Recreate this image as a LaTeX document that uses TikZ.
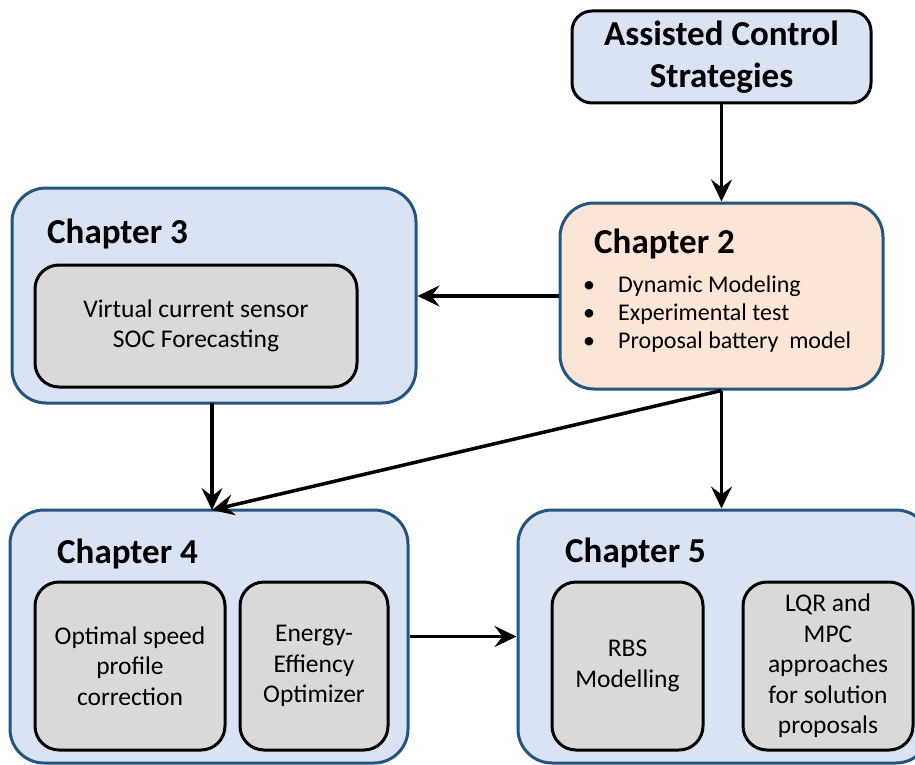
\documentclass[tikz,border=0pt]{standalone}
\usepackage{fontspec}
\setmainfont{Carlito}
\usetikzlibrary{arrows.meta}
\definecolor{chapblue}{RGB}{218,227,243}
\definecolor{chapedge}{RGB}{38,84,128}
\definecolor{peach}{RGB}{251,229,214}
\definecolor{innergray}{RGB}{217,217,217}
\tikzset{
  chapbox/.style={draw=chapedge, line width=3pt, fill=chapblue, rounded corners=34pt, inner sep=0pt},
  topbox/.style={draw=black, line width=3pt, fill=chapblue, rounded corners=20pt, inner sep=0pt, align=center, font=\fontsize{35}{42}\selectfont\bfseries},
  innerbox/.style={draw=black, line width=3pt, fill=innergray, rounded corners=24pt, inner sep=0pt, align=center, font=\fontsize{25.5}{30.5}\selectfont},
  chaptitle/.style={anchor=base west, inner sep=0pt, font=\fontsize{35}{42}\selectfont\bfseries},
  bullet/.style={anchor=base west, inner sep=0pt, font=\fontsize{24}{28}\selectfont},
  link/.style={line width=3.5pt, -{Stealth[length=22pt,width=21pt,inset=8pt]}},
}
\begin{document}
\begin{tikzpicture}[x=1pt,y=-1pt]
\useasboundingbox (0,0) rectangle (915,765);
\clip (0,0) rectangle (915,765);
% top box
\node[topbox, minimum width=299pt, minimum height=92pt] (top) at (721.5,57) {Assisted Control\\Strategies};
% chapter 2
\node[chapbox, draw=chapedge, fill=peach, minimum width=323pt, minimum height=186pt] (ch2) at (721.5,296) {};
\node[chaptitle] (t2) at (594,253) {Chapter 2};
\node[bullet] (b2a) at (583,292) {\makebox[35pt][l]{\textbullet}Dynamic Modeling};
\node[bullet] (b2b) at (583,320) {\makebox[35pt][l]{\textbullet}Experimental test};
\node[bullet] (b2c) at (583,348) {\makebox[35pt][l]{\textbullet}Proposal battery\ \ model};
% chapter 3
\node[chapbox, minimum width=404pt, minimum height=215pt] (ch3) at (214,295.5) {};
\node[chaptitle] (t3) at (47,243) {Chapter 3};
\node[innerbox, minimum width=322pt, minimum height=122pt] (i3) at (196,326) {Virtual current sensor\\SOC Forecasting};
% chapter 4
\node[chapbox, minimum width=398pt, minimum height=253pt] (ch4) at (209,636.5) {};
\node[chaptitle] (t4) at (57,563) {Chapter 4};
\node[innerbox, minimum width=190pt, minimum height=168pt] (i4a) at (130,666) {Optimal speed\\profile\\correction};
\node[innerbox, minimum width=148pt, minimum height=168pt] (i4b) at (314,666) {Energy-\\Effiency\\Optimizer};
% chapter 5
\node[chapbox, minimum width=412pt, minimum height=253pt] (ch5) at (724,636.5) {};
\node[chaptitle] (t5) at (565,562) {Chapter 5};
\node[innerbox, minimum width=151pt, minimum height=168pt] (i5a) at (627.5,666) {RBS\\Modelling};
\node[innerbox, minimum width=170pt, minimum height=168pt] (i5b) at (828,666) {LQR and\\MPC\\approaches\\for solution\\proposals};
% connectors
\coordinate (c4top) at (212,510);
\coordinate (c3bot) at (212,403);
\draw[link] (top.south) -- (ch2.north);
\draw[link] (ch2.west) -- (ch2.west -| ch3.east);
\draw[link] (c3bot) -- (c4top);
\draw[link] (ch2.south) -- (c4top);
\draw[link] (ch2.south) -- (ch2.south |- ch5.north);
\draw[link] (ch4.east) -- (ch4.east -| ch5.west);
\end{tikzpicture}
\end{document}
